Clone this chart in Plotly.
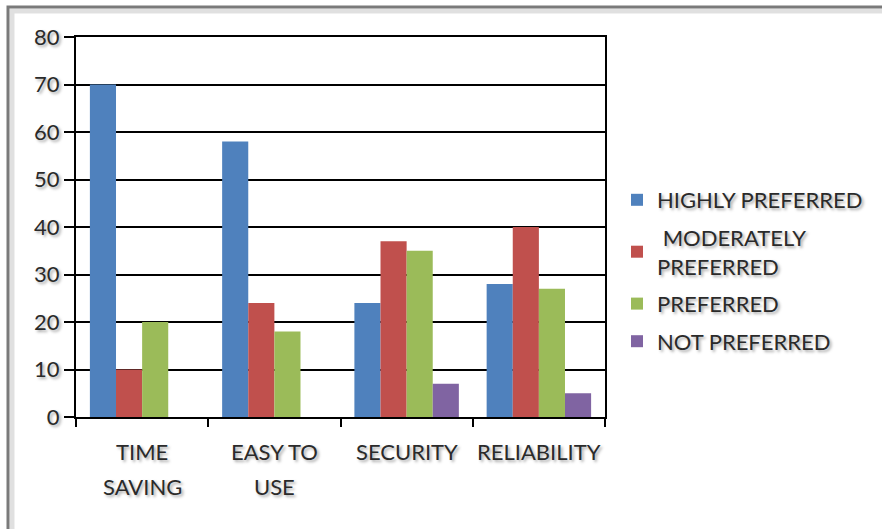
import plotly.graph_objects as go

# Survey responses per attribute
categories = ["TIME SAVING", "EASY TO USE", "SECURITY", "RELIABILITY"]
label_line1 = ["TIME", "EASY TO", "SECURITY", "RELIABILITY"]
label_line2 = ["SAVING", "USE", "", ""]

series_names = ["HIGHLY PREFERRED", " MODERATELY<br>PREFERRED", "PREFERRED", "NOT PREFERRED"]
highly_preferred = [70, 58, 24, 28]
moderately_preferred = [10, 24, 37, 40]
preferred = [20, 18, 35, 27]
not_preferred = [0, 0, 7, 5]

y_ticks = [0, 10, 20, 30, 40, 50, 60, 70, 80]

colors = ["#4F81BD", "#C0504D", "#9BBB59", "#8064A2"]
series_values = [highly_preferred, moderately_preferred, preferred, not_preferred]

FONT = "Lato"
FS = 22
TEXT_COLOR = "#2a2a2a"
SHADOW = "2px 2px 3px rgba(0,0,0,0.35)"

W, H = 882, 529
L, R, T, B = 76, 277, 37, 112
plot_w = W - L - R
plot_h = H - T - B


def px_x(p):
    return (p - L) / plot_w


def px_y(p):
    return (H - B - p) / plot_h


fig = go.Figure()
for i, (name, vals, col) in enumerate(zip(series_names, series_values, colors)):
    fig.add_trace(go.Bar(
        x=categories, y=vals, name=name,
        marker=dict(color=col, line=dict(width=0)),
        legendgroup=f"g{i}",
    ))

# Two-line category labels drawn below the axis
label_font = dict(family=FONT, size=FS, color=TEXT_COLOR, shadow=SHADOW)
annotations = []
for cat, l1, l2 in zip(categories, label_line1, label_line2):
    annotations.append(dict(x=cat, y=px_y(451), xref="x", yref="paper", text=l1,
                            showarrow=False, xanchor="center", yanchor="middle",
                            font=label_font))
    if l2:
        annotations.append(dict(x=cat, y=px_y(487), xref="x", yref="paper", text=l2,
                                showarrow=False, xanchor="center", yanchor="middle",
                                font=label_font))

# Outer frame with a soft inner shadow
shapes = [
    dict(type="rect", xref="paper", yref="paper",
         x0=px_x(12), x1=px_x(W + 20), y0=px_y(H + 20), y1=px_y(11),
         line=dict(color="rgba(0,0,0,0.12)", width=5), layer="below"),
    dict(type="rect", xref="paper", yref="paper",
         x0=px_x(8), x1=px_x(W + 20), y0=px_y(H + 20), y1=px_y(7),
         line=dict(color="#7a7a7a", width=3), layer="above"),
]

fig.update_layout(
    width=W, height=H,
    margin=dict(l=L, r=R, t=T, b=B),
    paper_bgcolor="white", plot_bgcolor="white",
    barmode="group", bargap=0.21, bargroupgap=0,
    font=label_font,
    showlegend=True,
    legend=dict(x=px_x(617), y=px_y(179), xanchor="left", yanchor="top",
                traceorder="grouped", tracegroupgap=6, itemwidth=30,
                font=label_font, bgcolor="rgba(0,0,0,0)"),
    xaxis=dict(type="category", showgrid=False, showline=True, linecolor="black",
               linewidth=2, ticks="outside", tickson="boundaries", ticklen=8,
               tickwidth=2, tickcolor="black", showticklabels=False,
               mirror=True, fixedrange=True),
    yaxis=dict(range=[0, 80], tickvals=y_ticks, showgrid=True, gridcolor="black",
               gridwidth=2, showline=True, linecolor="black", linewidth=2,
               ticks="outside", ticklen=10, tickwidth=2, tickcolor="black",
               mirror=True, zeroline=False, tickfont=label_font),
    annotations=annotations,
    shapes=shapes,
)

fig.write_html("out.html")
